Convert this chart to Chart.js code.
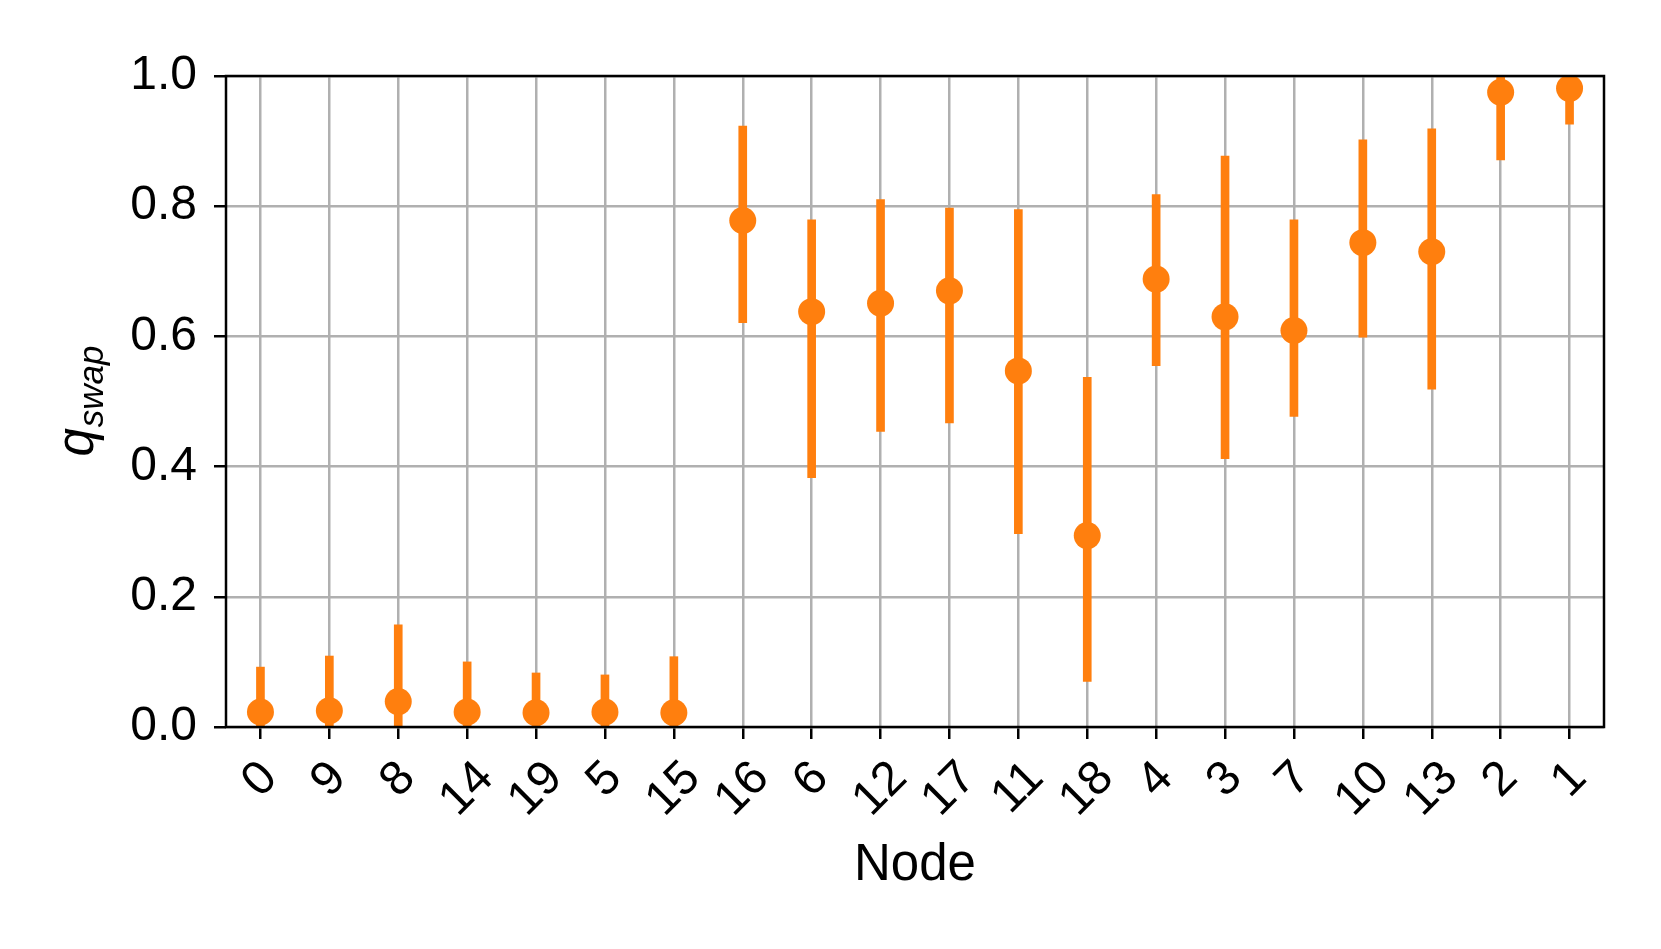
<!DOCTYPE html>
<html>
<head>
<meta charset="utf-8">
<script src="https://cdn.jsdelivr.net/npm/chart.js@4"></script>
<style>
  body { margin: 0; background: #fff; }
</style>
</head>
<body>
<canvas id="my-chart" width="1661" height="949"></canvas>
<script>
// nodes in plotted order
const nodes = ['0','9','8','14','19','5','15','16','6','12','17','11','18','4','3','7','10','13','2','1']
// mean q_swap per node
const qMean = [0.023,0.025,0.039,0.023,0.022,0.023,0.022,0.778,0.638,0.651,0.670,0.547,0.294,0.688,0.630,0.609,0.744,0.730,0.975,0.981]
// error bar ends
const qLow = [0,0,0,0,0,0,0,0.621,0.383,0.454,0.467,0.297,0.070,0.555,0.412,0.477,0.599,0.519,0.871,0.926]
const qHigh = [0.092,0.109,0.157,0.100,0.083,0.080,0.108,0.923,0.779,0.810,0.797,0.795,0.537,0.818,0.877,0.779,0.902,0.919,1.0,1.0]
const yTicks = [0, 0.2, 0.4, 0.6, 0.8, 1.0]

const orange = '#ff7f0e'
const font = '"Liberation Sans", Arial, sans-serif'

// matplotlib style texts: rotated x labels centred on ticks, axis labels, frame
const axisText = {
  id: 'axisText',
  afterDatasetsDraw(c) {
    const ctx = c.ctx
    const a = c.chartArea
    const x = c.scales.x
    ctx.save()
    ctx.strokeStyle = '#000'
    ctx.lineWidth = 2.5
    ctx.strokeRect(a.left, a.top, a.right - a.left, a.bottom - a.top)

    ctx.fillStyle = '#000'
    ctx.font = '48px ' + font
    ctx.textAlign = 'center'
    ctx.textBaseline = 'middle'
    nodes.forEach((n, i) => {
      const px = x.getPixelForTick(i)
      const w = ctx.measureText(n).width
      const cy = a.bottom + 24 + (w + 55) * Math.SQRT1_2 / 2
      ctx.save()
      ctx.translate(px, cy)
      ctx.rotate(-Math.PI / 4)
      ctx.fillText(n, 0, 0)
      ctx.restore()
    })

    ctx.font = '51px ' + font
    ctx.fillText('Node', (a.left + a.right) / 2, 866)

    // y label q_swap
    ctx.save()
    ctx.translate(92.5, (a.top + a.bottom) / 2)
    ctx.rotate(-Math.PI / 2)
    ctx.textAlign = 'left'
    ctx.textBaseline = 'alphabetic'
    ctx.font = 'italic 51px ' + font
    const qW = ctx.measureText('q').width
    ctx.font = 'italic 35px ' + font
    const sW = ctx.measureText('swap').width
    const start = -(qW + sW) / 2
    ctx.font = 'italic 51px ' + font
    ctx.fillText('q', start, 0)
    ctx.font = 'italic 35px ' + font
    ctx.fillText('swap', start + qW + 1, 10.8)
    ctx.restore()

    ctx.restore()
  }
}

const chart = document.getElementById('my-chart')
var myChart = new Chart(chart, {
  type: 'bar',
  data: {
    labels: nodes,
    datasets: [{
      type: 'line',
      label: 'mean',
      data: qMean,
      showLine: false,
      pointRadius: 13.5,
      pointHoverRadius: 13.5,
      pointBorderWidth: 0,
      pointBackgroundColor: orange,
      borderColor: orange,
      order: 0,
    }, {
      label: 'range',
      data: qLow.map((l, i) => [l, qHigh[i]]),
      backgroundColor: orange,
      borderWidth: 0,
      barThickness: 8,
      order: 1,
    }]
  },
  options: {
    responsive: false,
    animation: false,
    layout: {
      padding: { left: 0, right: 57, top: 76, bottom: 0 }
    },
    scales: {
      x: {
        offset: true,
        afterFit: s => { s.height = 222 },
        grid: {
          offset: false,
          color: '#b0b0b0',
          lineWidth: 2.5,
          drawTicks: true,
          tickLength: 12,
          tickColor: '#000',
          tickWidth: 2.5,
        },
        border: { display: false },
        ticks: { display: false }
      },
      y: {
        min: 0,
        max: 1,
        afterFit: s => { s.width = 226 },
        afterBuildTicks: s => { s.ticks = yTicks.map(v => ({ value: v })) },
        grid: {
          color: '#b0b0b0',
          lineWidth: 2.5,
          tickLength: 12,
          tickColor: '#000',
          tickWidth: 2.5,
        },
        border: { display: false },
        ticks: {
          color: '#000',
          padding: 17,
          font: { family: font, size: 48 },
          callback: v => v.toFixed(1)
        }
      }
    },
    plugins: {
      legend: { display: false },
      tooltip: { enabled: false }
    }
  },
  plugins: [axisText]
})
</script>
</body>
</html>
